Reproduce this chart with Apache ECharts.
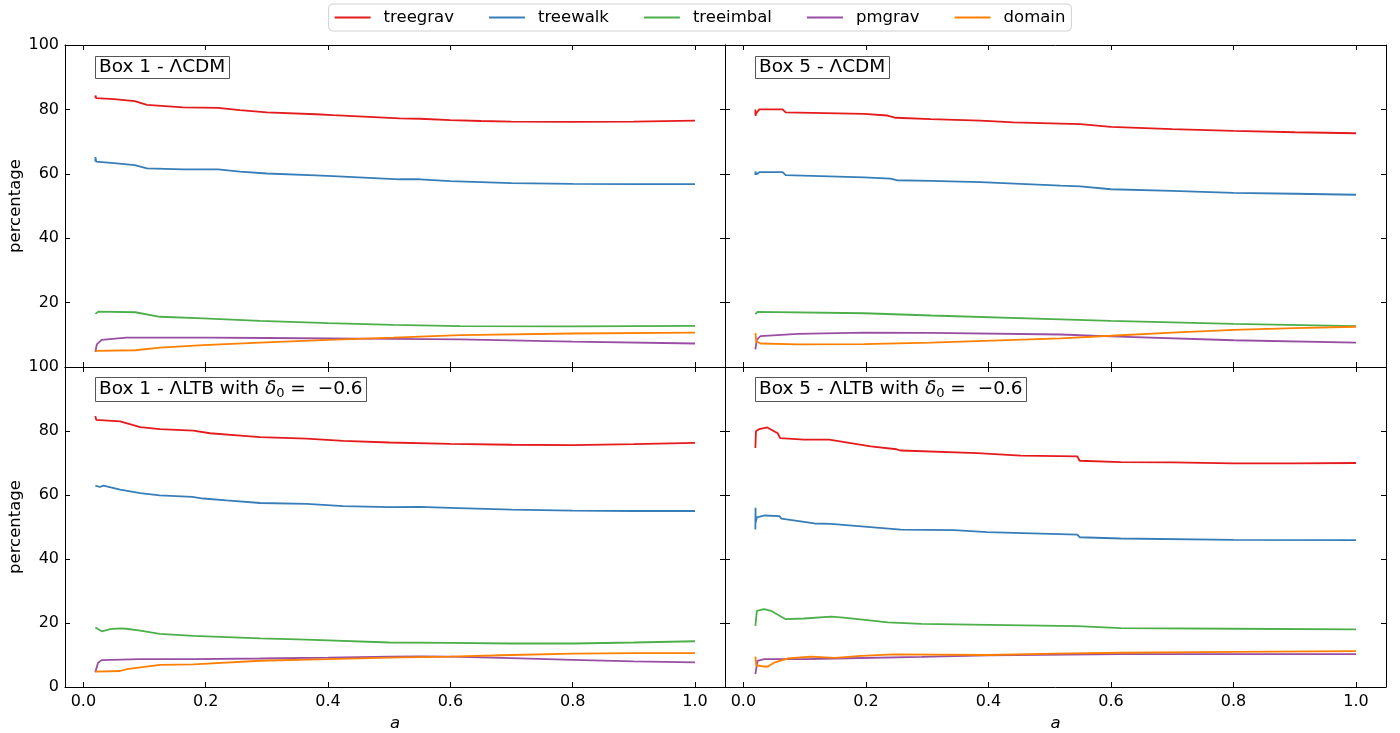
<!DOCTYPE html>
<html>
<head>
<meta charset="utf-8">
<script src="https://cdn.jsdelivr.net/npm/echarts@6/dist/echarts.min.js"></script>
<style>html,body{margin:0;padding:0;background:#fff}#c{width:1400px;height:733px}</style>
</head>
<body>
<div id="c"></div>
<script>
const seriesNames = ['treegrav','treewalk','treeimbal','pmgrav','domain'];
const seriesColors = ['#e41a1c','#377eb8','#4daf4a','#984ea3','#ff7f00'];
const xTicks = [0, 0.2, 0.4, 0.6, 0.8, 1.0];
const yTicks = [0, 20, 40, 60, 80, 100];

// Panel 1: Box 1 - ΛCDM
const box1_lcdm_treegrav = [[0.0196,83.6],[0.0198,84.3],[0.021,83.5],[0.05,83.2],[0.084,82.6],[0.104,81.4],[0.163,80.6],[0.22,80.5],[0.256,79.8],[0.30,79.1],[0.38,78.5],[0.408,78.2],[0.517,77.2],[0.55,77.1],[0.6,76.7],[0.65,76.4],[0.7,76.2],[0.8,76.1],[0.9,76.2],[1.0,76.5]];
const box1_lcdm_treewalk = [[0.0196,63.8],[0.0198,65.2],[0.021,63.8],[0.05,63.3],[0.084,62.7],[0.104,61.7],[0.163,61.4],[0.22,61.4],[0.256,60.7],[0.30,60.1],[0.38,59.5],[0.408,59.3],[0.517,58.3],[0.55,58.3],[0.6,57.7],[0.7,57.1],[0.8,56.9],[0.9,56.8],[1.0,56.8]];
const box1_lcdm_treeimbal = [[0.0196,16.5],[0.025,17.2],[0.085,17.0],[0.125,15.6],[0.196,15.1],[0.289,14.3],[0.4,13.6],[0.507,13.1],[0.616,12.7],[0.8,12.6],[1.0,12.8]];
const box1_lcdm_pmgrav = [[0.0196,4.7],[0.022,7.0],[0.03,8.4],[0.07,9.1],[0.2,9.1],[0.3,9.0],[0.45,8.8],[0.616,8.6],[0.8,7.9],[1.0,7.3]];
const box1_lcdm_domain = [[0.0196,5.0],[0.085,5.2],[0.125,6.0],[0.196,6.8],[0.289,7.6],[0.4,8.4],[0.507,9.1],[0.616,9.9],[0.8,10.4],[1.0,10.7]];

// Panel 2: Box 5 - ΛCDM
const box5_lcdm_treegrav = [[0.0196,80.0],[0.0197,78.0],[0.021,78.8],[0.026,80.0],[0.064,80.0],[0.069,79.1],[0.197,78.6],[0.235,78.1],[0.249,77.4],[0.306,77.0],[0.387,76.5],[0.441,76.0],[0.518,75.6],[0.55,75.4],[0.6,74.6],[0.7,73.9],[0.8,73.3],[0.9,72.9],[1.0,72.6]];
const box5_lcdm_treewalk = [[0.0196,59.6],[0.0197,60.7],[0.021,59.8],[0.026,60.5],[0.064,60.5],[0.069,59.6],[0.197,58.9],[0.24,58.5],[0.25,58.0],[0.306,57.8],[0.387,57.4],[0.518,56.3],[0.55,56.1],[0.6,55.2],[0.7,54.7],[0.8,54.1],[0.9,53.8],[1.0,53.5]];
const box5_lcdm_treeimbal = [[0.0196,16.4],[0.023,17.1],[0.197,16.7],[0.306,16.0],[0.518,14.8],[0.6,14.3],[0.8,13.4],[1.0,12.7]];
const box5_lcdm_pmgrav = [[0.0196,5.5],[0.022,8.5],[0.028,9.6],[0.089,10.3],[0.197,10.65],[0.306,10.6],[0.518,10.1],[0.6,9.5],[0.8,8.3],[1.0,7.6]];
const box5_lcdm_domain = [[0.0196,10.5],[0.021,8.0],[0.028,7.3],[0.089,7.05],[0.197,7.1],[0.306,7.55],[0.518,8.9],[0.6,9.7],[0.7,10.7],[0.8,11.5],[0.9,12.1],[1.0,12.5]];

// Panel 3: Box 1 - ΛLTB
const box1_ltb_treegrav = [[0.0196,84.7],[0.021,83.5],[0.06,83.0],[0.093,81.2],[0.125,80.6],[0.18,80.1],[0.207,79.3],[0.262,78.5],[0.289,78.1],[0.365,77.6],[0.425,76.9],[0.5,76.4],[0.6,76.0],[0.7,75.7],[0.8,75.6],[0.9,75.9],[1.0,76.3]];
const box1_ltb_treewalk = [[0.0196,62.9],[0.027,62.5],[0.033,62.9],[0.06,61.7],[0.093,60.6],[0.125,59.9],[0.178,59.4],[0.196,58.9],[0.234,58.3],[0.289,57.5],[0.365,57.2],[0.425,56.5],[0.5,56.2],[0.55,56.3],[0.6,56.0],[0.7,55.4],[0.8,55.1],[0.9,55.0],[1.0,55.0]];
const box1_ltb_treeimbal = [[0.0196,18.6],[0.03,17.4],[0.044,18.1],[0.06,18.3],[0.07,18.2],[0.093,17.6],[0.125,16.6],[0.18,16.0],[0.289,15.2],[0.365,14.8],[0.5,13.9],[0.6,13.8],[0.7,13.6],[0.8,13.6],[0.9,13.9],[1.0,14.3]];
const box1_ltb_pmgrav = [[0.0196,4.6],[0.024,7.6],[0.03,8.4],[0.093,8.7],[0.18,8.7],[0.289,8.9],[0.4,9.2],[0.5,9.5],[0.55,9.6],[0.6,9.5],[0.7,9.0],[0.8,8.5],[0.9,8.0],[1.0,7.7]];
const box1_ltb_domain = [[0.0196,4.8],[0.06,5.0],[0.071,5.6],[0.125,6.9],[0.18,7.1],[0.289,8.2],[0.4,8.7],[0.5,9.2],[0.6,9.5],[0.7,10.0],[0.8,10.4],[0.9,10.6],[1.0,10.6]];

// Panel 4: Box 5 - ΛLTB
const box5_ltb_treegrav = [[0.0196,74.7],[0.0205,79.9],[0.026,80.6],[0.039,81.1],[0.056,79.3],[0.06,77.8],[0.099,77.3],[0.14,77.3],[0.143,76.8],[0.208,75.2],[0.25,74.3],[0.257,73.9],[0.382,73.1],[0.453,72.3],[0.545,72.1],[0.549,70.7],[0.616,70.3],[0.7,70.2],[0.8,69.9],[0.9,69.9],[1.0,70.0]];
const box5_ltb_treewalk = [[0.0196,49.2],[0.0198,56.0],[0.0202,51.5],[0.022,53.0],[0.035,53.6],[0.059,53.4],[0.062,52.6],[0.116,51.1],[0.143,51.0],[0.146,50.5],[0.257,49.2],[0.344,49.0],[0.398,48.4],[0.545,47.6],[0.549,46.8],[0.616,46.4],[0.8,46.0],[1.0,45.9]];
const box5_ltb_treeimbal = [[0.0196,19.1],[0.022,23.8],[0.034,24.3],[0.045,23.8],[0.069,21.2],[0.099,21.4],[0.143,22.0],[0.164,21.7],[0.236,20.2],[0.291,19.7],[0.4,19.4],[0.545,19.0],[0.616,18.4],[0.8,18.2],[1.0,18.0]];
const box5_ltb_pmgrav = [[0.0196,4.05],[0.023,8.2],[0.034,8.7],[0.1,8.7],[0.15,8.9],[0.291,9.4],[0.4,9.9],[0.616,10.3],[1.0,10.3]];
const box5_ltb_domain = [[0.0196,9.5],[0.021,6.8],[0.034,6.4],[0.04,6.4],[0.05,7.6],[0.072,8.9],[0.11,9.5],[0.15,9.1],[0.192,9.7],[0.245,10.2],[0.4,10.0],[0.507,10.4],[0.616,10.7],[0.8,11.0],[1.0,11.2]];

const panels = [
  {title: 'Box 1 - ΛCDM', ltb: false, data: [box1_lcdm_treegrav, box1_lcdm_treewalk, box1_lcdm_treeimbal, box1_lcdm_pmgrav, box1_lcdm_domain]},
  {title: 'Box 5 - ΛCDM', ltb: false, data: [box5_lcdm_treegrav, box5_lcdm_treewalk, box5_lcdm_treeimbal, box5_lcdm_pmgrav, box5_lcdm_domain]},
  {title: 'Box 1 - ΛLTB with ', ltb: true, data: [box1_ltb_treegrav, box1_ltb_treewalk, box1_ltb_treeimbal, box1_ltb_pmgrav, box1_ltb_domain]},
  {title: 'Box 5 - ΛLTB with ', ltb: true, data: [box5_ltb_treegrav, box5_ltb_treewalk, box5_ltb_treeimbal, box5_ltb_pmgrav, box5_ltb_domain]}
];

const FONT = 'DejaVu Sans';
const gridPos = [
  {left: 65, top: 45, width: 660, height: 322},
  {left: 725, top: 45, width: 661, height: 322},
  {left: 65, top: 367, width: 660, height: 321},
  {left: 725, top: 367, width: 661, height: 321}
];
const XMIN = -0.03, XMAX = 1.049;
const axisLineStyle = {show: true, onZero: false, lineStyle: {color: '#000', width: 1}};
const tickStyle = {show: true, inside: true, length: 5, lineStyle: {color: '#000', width: 1}};

const grids = [], xAxes = [], yAxes = [], series = [], titles = [];
panels.forEach((p, i) => {
  const isBottom = i >= 2, isLeft = i % 2 === 0;
  grids.push(Object.assign({containLabel: false}, gridPos[i]));
  xAxes.push({
    gridIndex: i, type: 'value', min: XMIN, max: XMAX, position: 'bottom',
    axisLine: axisLineStyle, splitLine: {show: false},
    axisTick: Object.assign({customValues: xTicks}, tickStyle),
    axisLabel: {show: isBottom, customValues: xTicks, formatter: v => v.toFixed(1), fontFamily: FONT, fontSize: 16, color: '#000', margin: 7},
    name: isBottom ? 'a' : '', nameLocation: 'middle', nameGap: 28,
    nameTextStyle: {fontFamily: FONT, fontSize: 16.5, fontStyle: 'italic', color: '#000'}
  });
  xAxes.push({
    gridIndex: i, type: 'value', min: XMIN, max: XMAX, position: 'top',
    axisLine: axisLineStyle, splitLine: {show: false},
    axisTick: Object.assign({customValues: xTicks}, tickStyle),
    axisLabel: {show: false}
  });
  yAxes.push({
    gridIndex: i, type: 'value', min: 0, max: 100, interval: 20, position: 'left',
    axisLine: axisLineStyle, splitLine: {show: false}, axisTick: tickStyle,
    axisLabel: {show: isLeft, showMinLabel: isBottom, fontFamily: FONT, fontSize: 16, color: '#000', margin: 6},
    name: isLeft ? 'percentage' : '', nameLocation: 'middle', nameGap: 40, nameRotate: 90,
    nameTextStyle: {fontFamily: FONT, fontSize: 16.5, color: '#000'}
  });
  yAxes.push({
    gridIndex: i, type: 'value', min: 0, max: 100, interval: 20, position: 'right',
    axisLine: axisLineStyle, splitLine: {show: false}, axisTick: tickStyle,
    axisLabel: {show: false}
  });
  p.data.forEach((d, k) => {
    series.push({
      name: seriesNames[k], type: 'line', xAxisIndex: 2 * i, yAxisIndex: 2 * i,
      data: d, showSymbol: false, symbol: 'none', silent: true,
      lineStyle: {color: seriesColors[k], width: 1.8}, itemStyle: {color: seriesColors[k]},
      z: 2 + k
    });
  });
  const rich = {
    n: {fontFamily: FONT, fontSize: 18.5, fontWeight: 'normal', color: '#000', lineHeight: 21},
    i: {fontFamily: FONT, fontSize: 18.5, fontWeight: 'normal', fontStyle: 'italic', color: '#000', lineHeight: 21},
    s: {fontFamily: FONT, fontSize: 13, fontWeight: 'normal', color: '#000', lineHeight: 21, padding: [8, 0, 0, 0]}
  };
  const text = p.ltb ? '{n|' + p.title + '}{i|δ}{s|0}{n| =  −0.6}' : '{n|' + p.title + '}';
  titles.push({
    text: text, left: gridPos[i].left + 30, top: gridPos[i].top + 10,
    padding: [2, 4, 2, 4], borderColor: '#555', borderWidth: 1, backgroundColor: '#fff',
    textStyle: {fontWeight: 'normal', rich: rich}
  });
});

const chart = echarts.init(document.getElementById('c'), null, {renderer: 'canvas'});
chart.setOption({
  animation: false,
  title: titles,
  legend: {
    data: seriesNames, left: 'center', top: 4, padding: [5, 6, 5, 6],
    icon: 'rect', itemWidth: 36, itemHeight: 2, itemGap: 35,
    borderColor: '#d0d0d0', borderWidth: 1, borderRadius: 4,
    textStyle: {fontFamily: FONT, fontSize: 16.5, color: '#000', padding: [0, 0, 0, 8]},
    selectedMode: false
  },
  grid: grids, xAxis: xAxes, yAxis: yAxes, series: series
});
</script>
</body>
</html>
